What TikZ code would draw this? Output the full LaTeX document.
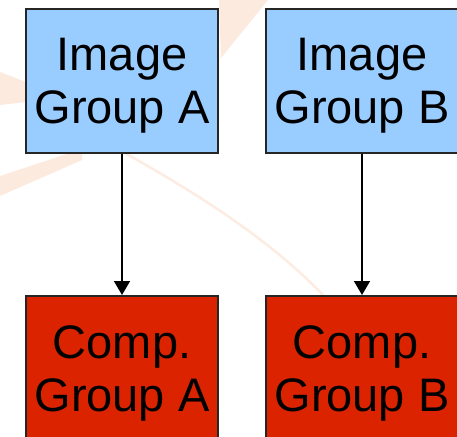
\documentclass[tikz,border=0pt]{standalone}
\usepackage{fontspec}
\setmainfont{Liberation Sans}
\usetikzlibrary{arrows.meta}
\definecolor{boxblue}{HTML}{99CCFF}
\definecolor{boxred}{HTML}{DC2300}
\definecolor{wmark}{HTML}{F59A60}
\begin{document}
\begin{tikzpicture}[x=1pt,y=-1pt,
  box/.style={draw=black!85, line width=2pt, minimum width=192pt, minimum height=144pt, inner sep=0pt, anchor=north west},
  lbl/.style={font=\fontsize{47pt}{53pt}\selectfont, align=center, text=black, inner sep=0pt, yshift=-5pt},
  conn/.style={line width=1.6pt, -{Triangle[width=16pt,length=14pt]}},
  wm/.style={fill=wmark, opacity=0.2, draw=none}]
\useasboundingbox (0,0) rectangle (457,436);
\fill[white] (0,0) rectangle (457,436);
% faint watermark
\fill[wm] (219,0) -- (268,0) -- (221,58) -- cycle;
\fill[wm] (0,72) -- (26,82) -- (26,102) -- (0,105) -- cycle;
\fill[wm] (0,176) -- (82,149) -- (82,160) -- (0,196) -- cycle;
\draw[wmark, opacity=0.18, line width=2.5pt] (123,152) .. controls (200,195) and (270,240) .. (323,295);
% boxes
\node[box, fill=boxblue, label={[lbl]center:Image\\Group A}] (iga) at (25,8) {};
\node[box, fill=boxblue, label={[lbl]center:Image\\Group B}] (igb) at (265,8) {};
\node[box, fill=boxred, label={[lbl]center:Comp.\\Group A}] (cga) at (25,295) {};
\node[box, fill=boxred, label={[lbl]center:Comp.\\Group B}] (cgb) at (265,295) {};
% connectors
\draw[conn] (iga.south) -- (cga.north);
\draw[conn] (igb.south) -- (cgb.north);
\end{tikzpicture}
\end{document}
